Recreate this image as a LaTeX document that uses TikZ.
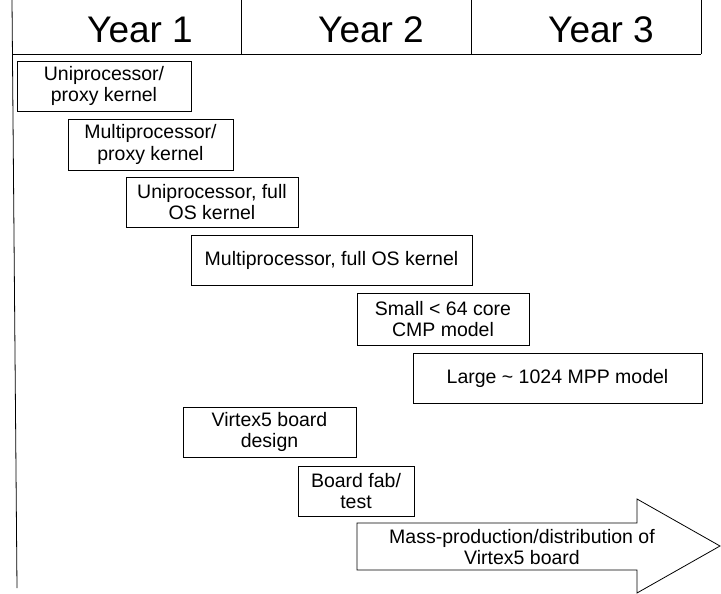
\documentclass[tikz,border=0pt]{standalone}
\usepackage{fontspec}
\setmainfont{Liberation Sans}

\begin{document}
\begin{tikzpicture}[x=1pt, y=-1pt, line width=0.8pt,
                    every node/.style={inner sep=0pt, outer sep=0pt},
                    task/.style={draw, align=center,
                                 font=\fontsize{19.5}{21.5}\selectfont},
                    yearlabel/.style={anchor=base,
                                      font=\fontsize{37}{42}\selectfont},
                    ]
\useasboundingbox (0,0) rectangle (721,594);
% header
\draw (12,0) -- (17,588);
\draw (12,54) -- (701,54);
\foreach \x in {241,471,701} \draw (\x,0) -- (\x,54);
\node[yearlabel] (year1) at (140,43) {Year 1};
\node[yearlabel] (year2) at (371,43) {Year 2};
\node[yearlabel] (year3) at (601,43) {Year 3};
% tasks
\node[task, minimum width=174, minimum height=50] (uniproxy)    at (104,86)    {Uniprocessor/\\proxy kernel};
\node[task, minimum width=165, minimum height=51] (multiproxy)  at (150.5,144.5) {Multiprocessor/\\proxy kernel};
\node[task, minimum width=172, minimum height=50] (unifull)     at (212,202)   {Uniprocessor, full\\OS kernel};
\node[task, minimum width=281, minimum height=50] (multifull)   at (331.5,260) {Multiprocessor, full OS kernel};
\node[task, minimum width=172, minimum height=52] (smallcmp)    at (443,319)   {Small < 64 core\\CMP model};
\node[task, minimum width=289, minimum height=50] (largempp)    at (557.5,378) {Large \textasciitilde{} 1024 MPP model};
\node[task, minimum width=173, minimum height=50] (boarddesign) at (269.5,432) {Virtex5 board\\design};
\node[task, minimum width=116, minimum height=50] (boardfab)    at (356,491)   {Board fab/\\test};
% mass production arrow
\draw (357,523) -- (637,523) -- (637,499) -- (720,546) -- (637,593)
      -- (637,570) -- (357,570) -- cycle;
\node[align=center, font=\fontsize{19.5}{21.5}\selectfont] (massprod) at (522,547)
     {Mass-production/distribution of\\Virtex5 board};
\end{tikzpicture}
\end{document}
